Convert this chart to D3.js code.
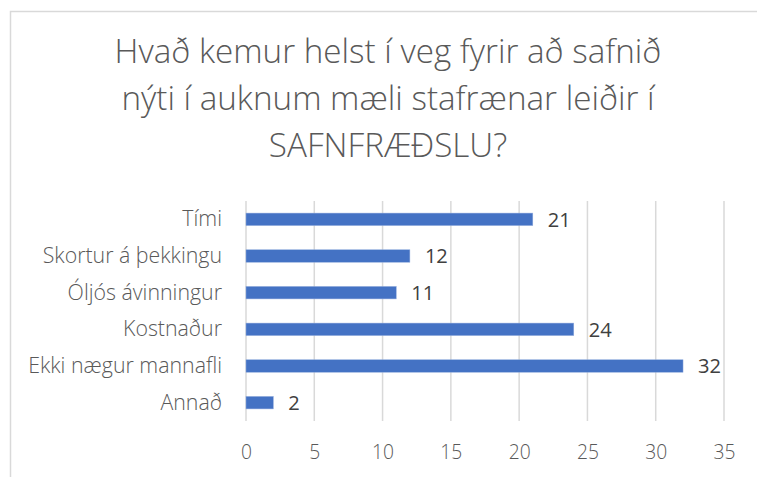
<!DOCTYPE html>
<html>
<head>
<meta charset="utf-8">
<script src="https://cdn.jsdelivr.net/npm/d3@7"></script>
<style>
  body { margin: 0; background: #fff; }
  text { font-family: "Open Sans", Lato, sans-serif; }
</style>
</head>
<body>
<div id="chart"></div>
<script>
var categories = ["Tími", "Skortur á þekkingu", "Óljós ávinningur", "Kostnaður", "Ekki nægur mannafli", "Annað"];
var values = [21, 12, 11, 24, 32, 2];
var xTicks = [0, 5, 10, 15, 20, 25, 30, 35];
var titleLines = ["Hvað kemur helst í veg fyrir að safnið", "nýti í auknum mæli stafrænar leiðir í", "SAFNFRÆÐSLU?"];

(function() {
  var W = 757, H = 477;
  var margin = { top: 201, left: 246, right: 33, bottom: 56 };
  var width = W - margin.left - margin.right,
      height = H - margin.top - margin.bottom;

  var svg = d3.select("#chart")
    .append("svg")
    .attr("width", W)
    .attr("height", H);

  // size a group of texts so the widest one spans the given width
  function fitFont(sel, target) {
    var maxW = 0;
    sel.each(function() { maxW = Math.max(maxW, this.getComputedTextLength()) });
    var fs = parseFloat(sel.attr("font-size"));
    sel.attr("font-size", (fs * target / maxW) + "px");
  }

  // chart frame
  svg.append("rect")
    .attr("x", 10.5)
    .attr("y", 11.5)
    .attr("width", 800)
    .attr("height", 500)
    .attr("fill", "none")
    .attr("stroke", "#d9d9d9")
    .attr("stroke-width", 1.5);

  var title = svg.append("g")
    .selectAll("text")
    .data(titleLines)
    .enter().append("text")
    .text(function(d) { return d })
    .attr("x", 388)
    .attr("y", function(d, i) { return 63 + i * 47 })
    .attr("text-anchor", "middle")
    .attr("font-size", "30px")
    .attr("font-weight", 300)
    .attr("fill", "#595959");
  fitFont(title, 547);

  var g = svg.append("g")
    .attr("transform", "translate(" + margin.left + "," + margin.top + ")");

  var x = d3.scaleLinear().domain([0, 35]).range([0, 478]);
  var y = d3.scaleBand().domain(categories).range([0, height]).paddingInner(0.66).paddingOuter(0.33);

  // gridlines
  g.selectAll(".grid")
    .data(xTicks)
    .enter().append("line")
    .attr("x1", function(d) { return x(d) })
    .attr("x2", function(d) { return x(d) })
    .attr("y1", 0)
    .attr("y2", height)
    .attr("stroke", "#d9d9d9")
    .attr("stroke-width", 1.5);

  var xAxis = g.append("g")
    .attr("transform", "translate(0," + height + ")")
    .call(d3.axisBottom(x).tickValues(xTicks).tickSize(0).tickPadding(24));
  xAxis.select(".domain").remove();
  var xLabels = xAxis.selectAll("text")
    .attr("font-size", "17px")
    .attr("font-family", "'Open Sans', sans-serif")
    .attr("font-weight", 300)
    .attr("fill", "#595959");
  fitFont(xLabels, 22);

  var yAxis = g.append("g")
    .call(d3.axisLeft(y).tickSize(0).tickPadding(24));
  yAxis.select(".domain").remove();
  var yLabels = yAxis.selectAll("text")
    .attr("font-size", "17px")
    .attr("font-family", "'Open Sans', sans-serif")
    .attr("font-weight", 300)
    .attr("fill", "#595959");
  fitFont(yLabels, 194);

  g.selectAll(".bar")
    .data(values)
    .enter().append("rect")
    .attr("x", 0)
    .attr("y", function(d, i) { return y(categories[i]) })
    .attr("width", function(d) { return x(d) })
    .attr("height", y.bandwidth())
    .attr("fill", "#4472c4")
    .attr("stroke", "#8faadc")
    .attr("stroke-width", 0.5);

  var vals = g.selectAll(".val")
    .data(values)
    .enter().append("text")
    .text(function(d) { return d })
    .attr("x", function(d) { return x(d) + 15 })
    .attr("y", function(d, i) { return y(categories[i]) + y.bandwidth() / 2 })
    .attr("dy", "0.36em")
    .attr("font-size", "18px")
    .attr("fill", "#404040");
  fitFont(vals, 23);
})();
</script>
</body>
</html>
